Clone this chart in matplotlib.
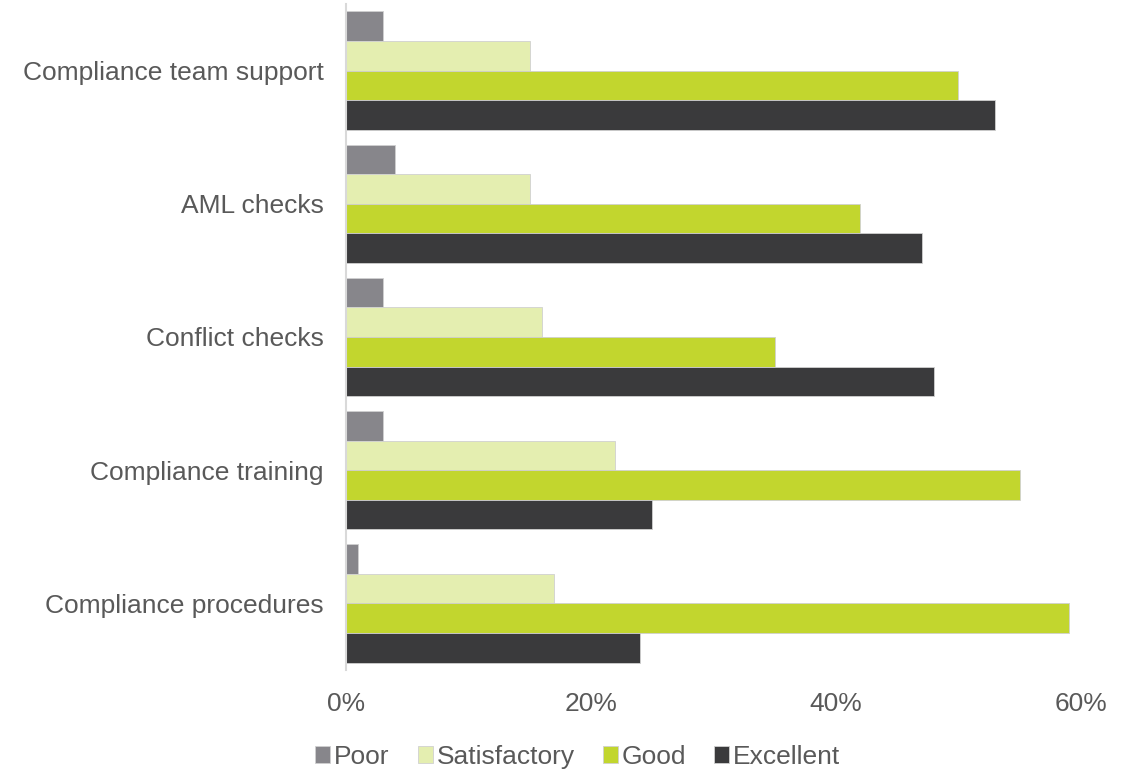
import numpy as np
import matplotlib
matplotlib.use('Agg')
import matplotlib.pyplot as plt
from matplotlib.ticker import FuncFormatter

plt.rcParams['font.family'] = ['Liberation Sans', 'DejaVu Sans']

# --- data (percent of respondents) ---
categories = ['Compliance team support', 'AML checks', 'Conflict checks',
              'Compliance training', 'Compliance procedures']
series = ['Poor', 'Satisfactory', 'Good', 'Excellent']
poor = [3, 4, 3, 3, 1]
satisfactory = [15, 15, 16, 22, 17]
good = [50, 42, 35, 55, 59]
excellent = [53, 47, 48, 25, 24]
x_ticks = [0, 20, 40, 60]

colors = ['#87868b', '#e4eeb0', '#c2d62e', '#3a3a3c']
values = [poor, satisfactory, good, excellent]

fig = plt.figure(figsize=(11.35, 7.7), dpi=100)
ax = fig.add_axes([0.3048, 0.1299, 0.6476, 0.8649])

y = np.arange(len(categories))
bh = 0.222
for i, (name, vals, c) in enumerate(zip(series, values, colors)):
    offs = (i - 1.5) * bh
    ax.barh(y + offs, vals, height=bh, color=c, edgecolor='#d0d0d0',
            linewidth=0.6, label=name)

ax.set_ylim(len(categories) - 0.5, -0.5)
ax.set_xlim(0, 60)
ax.set_yticks(y)
ax.set_yticklabels(categories)
ax.set_xticks(x_ticks)
ax.xaxis.set_major_formatter(FuncFormatter(lambda v, _: f'{v:.0f}%'))
ax.tick_params(axis='both', length=0, labelsize=19, labelcolor='#595959')
ax.tick_params(axis='y', pad=16)
ax.tick_params(axis='x', pad=16)

for s in ['top', 'right', 'bottom']:
    ax.spines[s].set_visible(False)
ax.spines['left'].set_color('#d9d9d9')
ax.spines['left'].set_linewidth(1.5)

leg = fig.legend(loc='center', bbox_to_anchor=(0.509, 0.017), ncol=4,
                 frameon=False, fontsize=19, handlelength=0.57, handleheight=0.57,
                 handletextpad=0.15, columnspacing=1.06, borderpad=0)
for t in leg.get_texts():
    t.set_color('#595959')

fig.savefig('out.png', dpi=100)
